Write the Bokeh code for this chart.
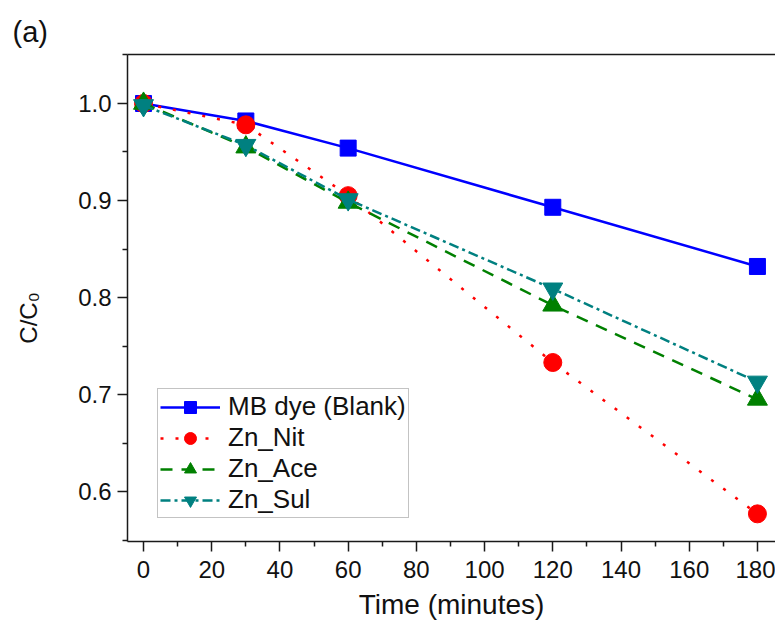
import numpy as np
from bokeh.plotting import figure
from bokeh.models import (Range1d, FixedTicker, LinearAxis, Legend, LegendItem, Title,
                          CustomJSTickFormatter)
from bokeh.embed import file_html
from bokeh.resources import INLINE

time_min = [0, 30, 60, 120, 180]
mb_blank = [1.0, 0.982, 0.954, 0.893, 0.832]
zn_nit = [1.0, 0.978, 0.905, 0.733, 0.577]
zn_ace = [1.0, 0.955, 0.898, 0.792, 0.695]
zn_sul = [0.998, 0.957, 0.901, 0.809, 0.713]
series_names = ["MB dye (Blank)", "Zn_Nit", "Zn_Ace", "Zn_Sul"]
x_ticks = [0, 20, 40, 60, 80, 100, 120, 140, 160, 180]
y_ticks = [0.6, 0.7, 0.8, 0.9, 1.0]

FONT = "Liberation Sans"
NB = "\u00a0"

p = figure(frame_width=648, frame_height=487, output_backend="svg",
           toolbar_location=None, title=None, x_range=Range1d(-4.7, 185.3),
           y_range=Range1d(0.5485, 1.0505),
           min_border_left=127, min_border_top=54, min_border_bottom=89,
           min_border_right=0)
p.outline_line_color = None
p.xgrid.visible = False
p.ygrid.visible = False
p.background_fill_color = "white"
p.border_fill_color = "white"

for ax, ticks, minors in ((p.xaxis[0], x_ticks, [v + 10 for v in x_ticks[:-1]]),
                          (p.yaxis[0], y_ticks, [0.55, 0.65, 0.75, 0.85, 0.95, 1.05])):
    ax.ticker = FixedTicker(ticks=ticks, minor_ticks=minors)
    ax.major_tick_out = 10
    ax.major_tick_in = 0
    ax.minor_tick_out = 5
    ax.minor_tick_in = 0
    ax.axis_line_width = 1.5
    ax.axis_line_color = "#1a1a1a"
    ax.major_tick_line_width = 1.5
    ax.minor_tick_line_width = 1.5
    ax.major_tick_line_color = "#1a1a1a"
    ax.minor_tick_line_color = "#1a1a1a"
    ax.major_label_text_font = FONT
    ax.major_label_text_font_size = "24px"
    ax.major_label_text_color = "#111111"
    ax.axis_label_text_font = FONT
    ax.axis_label_text_font_style = "normal"
    ax.axis_label_text_color = "#111111"

p.xaxis[0].major_label_standoff = 9
p.yaxis[0].major_label_standoff = 6
p.yaxis[0].formatter = CustomJSTickFormatter(code="return tick.toFixed(1);")
p.xaxis[0].axis_label = "Time (minutes)"
p.xaxis[0].axis_label_text_font_size = "28px"
p.xaxis[0].axis_label_standoff = 8
p.yaxis[0].axis_label = "C/C\u2080" + NB * 6
p.yaxis[0].axis_label_text_font_size = "24px"
p.yaxis[0].axis_label_standoff = 33

top_axis = LinearAxis(ticker=FixedTicker(ticks=[]), major_tick_line_color=None,
                      minor_tick_line_color=None, axis_line_width=1.5,
                      axis_line_color="#1a1a1a")
p.add_layout(top_axis, "above")
p.add_layout(Title(text="(a)", align="left", offset=-115, standoff=13,
                   text_font=FONT, text_font_size="29px",
                   text_font_style="normal", text_color="#111111"), "above")

styles = [
    (mb_blank, "#0000FF", "solid", "square", 16),
    (zn_nit, "#FF0000", "3 12", "circle", 18),
    (zn_ace, "#008000", "12 9", "triangle", 20),
    (zn_sul, "#008080", "10 4 3 4", "inverted_triangle", 20),
]
items = []
for (vals, color, dash, marker, size), name in zip(styles, series_names):
    ln = p.line(time_min, vals, line_color=color, line_width=2.5, line_dash=dash)
    sc = p.scatter(time_min, vals, marker=marker, size=size, fill_color=color,
                   line_color=color)
    items.append(LegendItem(label=name, renderers=[ln, sc]))

legend = Legend(items=items, location=(30, 23), label_text_font=FONT,
                label_text_font_size="26px", label_text_color="#111111",
                glyph_width=60, glyph_height=30, label_height=30, spacing=0,
                label_standoff=8, padding=2, margin=0,
                border_line_color="#888888", border_line_width=1,
                background_fill_color="white", background_fill_alpha=1.0)
p.add_layout(legend, "center")

open("out.html", "w").write(file_html(p, INLINE))
